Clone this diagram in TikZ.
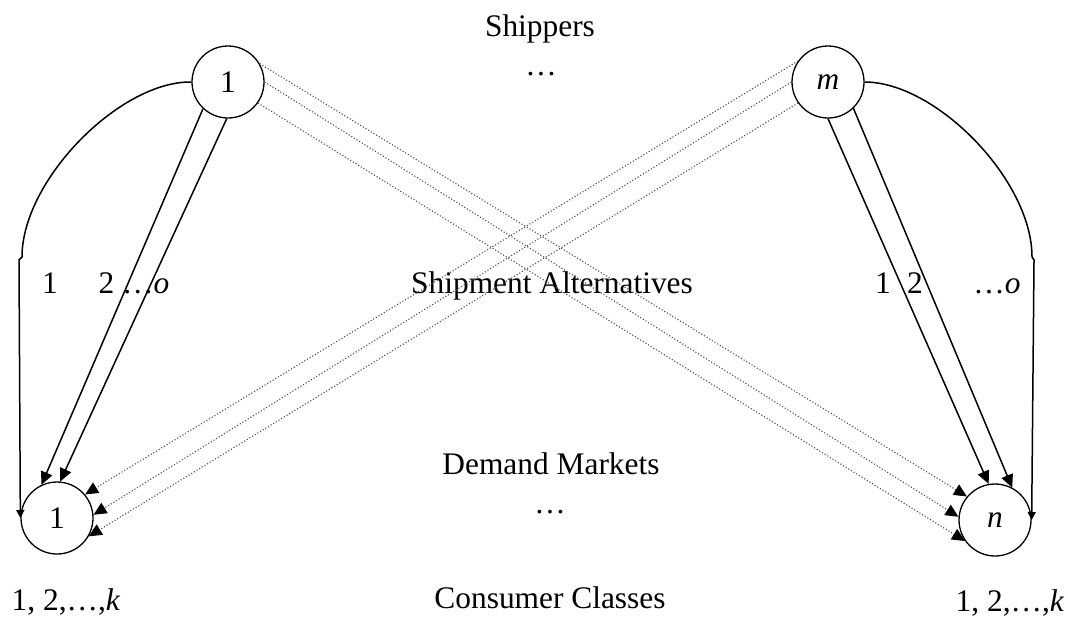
\documentclass[tikz,border=0pt]{standalone}
\usepackage{fontspec}
\setmainfont{Liberation Serif}
\usetikzlibrary{arrows.meta}
\begin{document}
\begin{tikzpicture}[x=0.5pt,y=-0.5pt,
  every node/.style={font=\fontsize{15.7}{18}\selectfont, inner sep=0pt},
  circ/.style={circle, draw, line width=0.65pt, minimum size=36pt, inner sep=0pt},
  lab/.style={anchor=base},
  tip/.style={-{Triangle[length=6.5pt,width=6pt,color=black,fill=black]}},
  solidarr/.style={line width=0.75pt, tip},
  dotarr/.style={densely dotted, line width=0.55pt, black!70, tip},
  curvearr/.style={line width=0.75pt, -{Triangle[length=4pt,width=4pt,color=black,fill=black]}},
]
\useasboundingbox (0,0) rectangle (1068,616);

% nodes
\node[circ] (s1) at (228,82) {1};
\node[circ] (sm) at (828,82) {\textit{m}};
\node[circ] (d1) at (57,518) {1};
\node[circ] (dn) at (995,520) {\textit{n}};

% text labels
\node[lab] (tShip) at (540,36) {Shippers};
\node[lab] (tDots1) at (541,75) {\ldots};
\node[lab] (tAlt) at (552,293) {Shipment Alternatives};
\node[lab] (tDem) at (551,474) {Demand Markets};
\node[lab] (tDots2) at (550,513) {\ldots};
\node[lab] (tCon) at (550,608) {Consumer Classes};
\node[lab] (kL) at (66,610) {1, 2,\ldots,\textit{k}};
\node[lab] (kR) at (1010,611) {1, 2,\ldots,\textit{k}};

\node[lab] (aL1) at (50,293) {1};
\node[lab] (aL2) at (134,293) {2 \ldots\textit{o}};
\node[lab] (aR1) at (883,293) {1};
\node[lab] (aR2) at (915,293) {2};
\node[lab] (aR3) at (997,293) {\ldots\textit{o}};

% curved alternatives
\coordinate (cL1) at (22,257);
\coordinate (cL2) at (19,260);
\coordinate (cR1) at (1032,257);
\coordinate (cR2) at (1034,260);
\draw[curvearr] (s1.west) .. controls (120,81) and (22,180) .. (cL1) -- (cL2) -- (d1.west);
\draw[curvearr] (sm.east) .. controls (936,82) and (1032,180) .. (cR1) -- (cR2) -- (dn.east);

% solid double lines
\draw[solidarr] (s1.227) -- (d1.115);
\draw[solidarr] (s1.268) -- (d1.85);
\draw[solidarr] (sm.270) -- (dn.100);
\draw[solidarr] (sm.314) -- (dn.62);

% dotted crossing lines
\draw[dotarr] (s1.30) -- (dn.140);
\draw[dotarr] (s1.0) -- (dn.175);
\draw[dotarr] (s1.-35) -- (dn.215);
\draw[dotarr] (sm.145) -- (d1.40);
\draw[dotarr] (sm.180) -- (d1.5);
\draw[dotarr] (sm.215) -- (d1.-30);
\end{tikzpicture}
\end{document}
